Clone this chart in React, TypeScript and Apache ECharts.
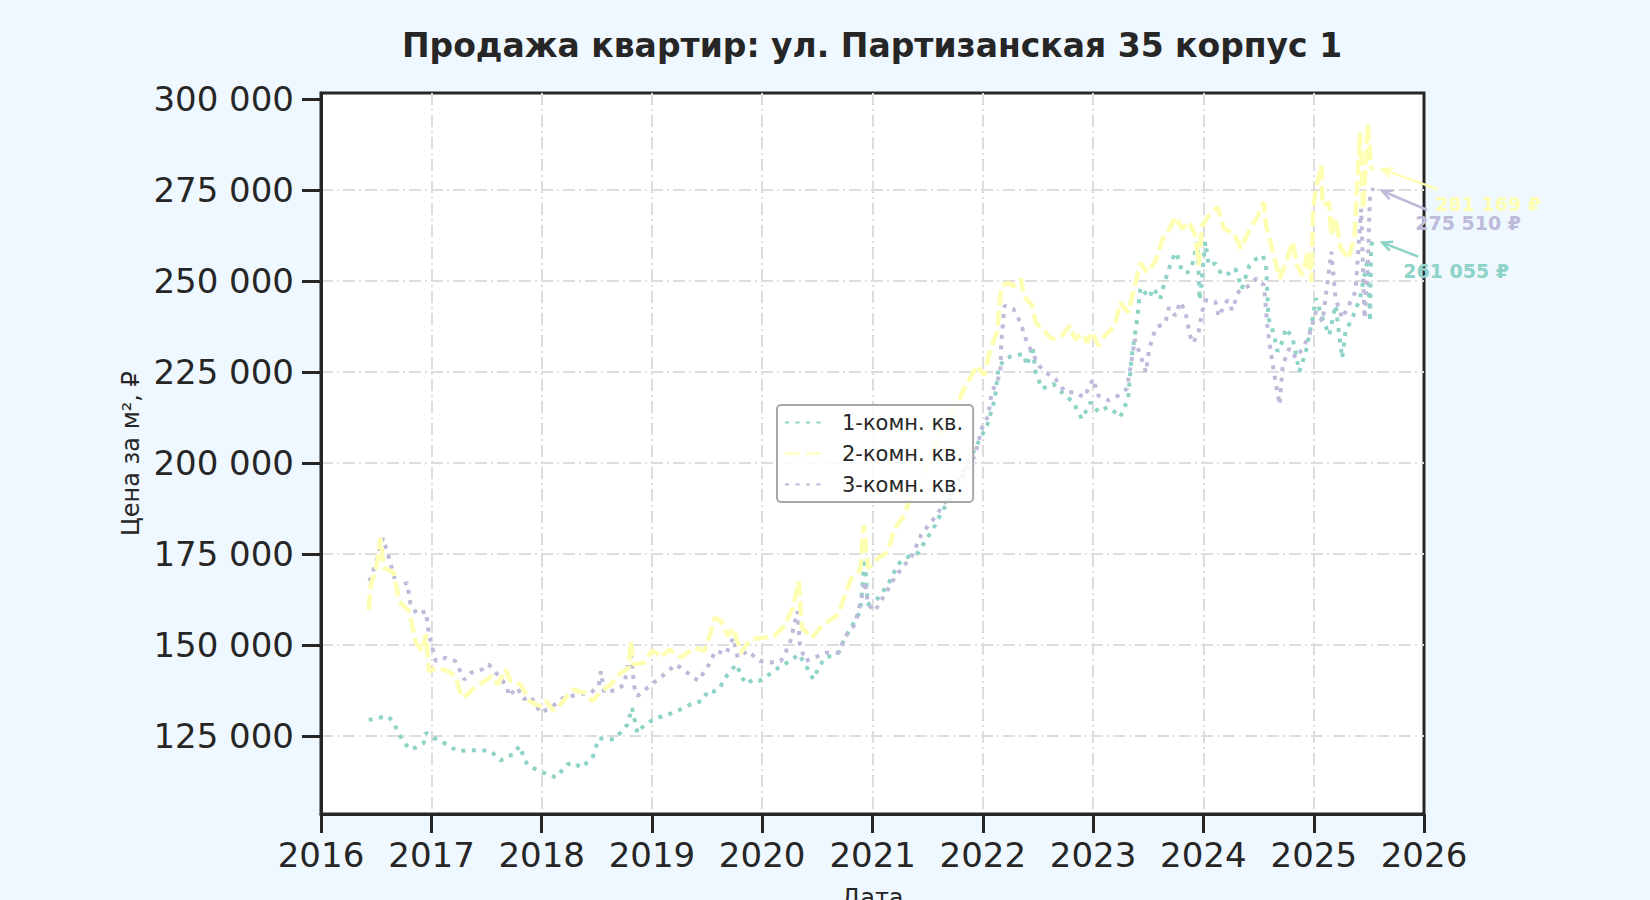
import React, { useEffect, useRef } from 'react';
import * as echarts from 'echarts';

const TITLE = 'Продажа квартир: ул. Партизанская 35 корпус 1';
const SERIES_NAMES = ['1-комн. кв.', '2-комн. кв.', '3-комн. кв.'];
const COLORS = ['#8dd3c7', '#ffffb3', '#bebada'];
const YEAR_TICKS = [2016, 2017, 2018, 2019, 2020, 2021, 2022, 2023, 2024, 2025, 2026];
const PRICE_TICKS = [125000, 150000, 175000, 200000, 225000, 250000, 275000, 300000];

// цена за м², ₽
const oneRoom: [string, number][] = [
  ['2016-06-07', 129400], ['2016-07-08', 130000], ['2016-08-08', 130500], ['2016-08-26', 129100],
  ['2016-09-16', 125500], ['2016-10-04', 123000], ['2016-10-23', 121300], ['2016-11-14', 122000],
  ['2016-12-06', 123100], ['2016-12-13', 125900], ['2017-01-08', 124500], ['2017-02-03', 123500],
  ['2017-02-28', 122300], ['2017-03-28', 120900], ['2017-05-08', 121100], ['2017-06-14', 121100],
  ['2017-07-16', 120900], ['2017-08-18', 118300], ['2017-09-13', 119500], ['2017-10-01', 120000],
  ['2017-10-19', 122300], ['2017-11-14', 117100], ['2017-12-10', 116000], ['2018-01-04', 115000],
  ['2018-01-26', 114500], ['2018-02-17', 113600], ['2018-03-26', 117200], ['2018-04-16', 117700],
  ['2018-05-12', 116300], ['2018-06-18', 119100], ['2018-07-09', 124400], ['2018-08-04', 124100],
  ['2018-08-29', 124100], ['2018-09-20', 126000], ['2018-10-12', 128200], ['2018-10-27', 132800],
  ['2018-11-14', 125800], ['2018-12-06', 128000], ['2019-01-01', 129300], ['2019-01-19', 130000],
  ['2019-02-10', 130600], ['2019-03-08', 131300], ['2019-03-29', 132000], ['2019-04-20', 133000],
  ['2019-05-12', 133800], ['2019-06-18', 134700], ['2019-07-06', 137500], ['2019-07-24', 137200],
  ['2019-08-11', 137900], ['2019-09-09', 142000], ['2019-10-08', 144700], ['2019-10-27', 141000],
  ['2019-11-10', 139300], ['2019-12-02', 140500], ['2019-12-24', 140200], ['2020-01-26', 142000],
  ['2020-03-03', 144300], ['2020-04-05', 145600], ['2020-05-01', 147500], ['2020-05-23', 144700],
  ['2020-06-18', 140600], ['2020-07-06', 143800], ['2020-07-28', 146600], ['2020-08-19', 147000],
  ['2020-09-10', 147900], ['2020-10-01', 152000], ['2020-10-19', 154500], ['2020-11-03', 156600],
  ['2020-11-21', 159300], ['2020-12-06', 173800], ['2020-12-16', 161100], ['2021-01-05', 162000],
  ['2021-01-19', 162900], ['2021-02-21', 166600], ['2021-03-25', 172000], ['2021-04-16', 173800],
  ['2021-05-08', 174500], ['2021-05-30', 175200], ['2021-06-28', 179000], ['2021-07-27', 182900],
  ['2021-08-18', 186600], ['2021-09-13', 190000], ['2021-10-08', 194500], ['2021-11-06', 199000],
  ['2021-12-06', 203900], ['2022-01-15', 210300], ['2022-02-10', 217600], ['2022-02-21', 225800],
  ['2022-03-14', 228600], ['2022-04-12', 229500], ['2022-05-16', 229900], ['2022-05-27', 226700],
  ['2022-06-14', 232200], ['2022-06-25', 224900], ['2022-07-16', 220400], ['2022-08-22', 221700],
  ['2022-10-01', 218500], ['2022-10-27', 216700], ['2022-11-25', 212100], ['2022-12-24', 216700],
  ['2023-01-19', 214000], ['2023-02-17', 215300], ['2023-03-14', 214000], ['2023-04-01', 212600],
  ['2023-04-27', 217600], ['2023-05-08', 228600], ['2023-05-27', 239500], ['2023-06-07', 248200],
  ['2023-07-06', 245400], ['2023-07-20', 248000], ['2023-08-11', 245000], ['2023-08-29', 250500],
  ['2023-09-20', 256000], ['2023-10-04', 257800], ['2023-10-23', 252500], ['2023-11-10', 252300],
  ['2023-11-25', 254300], ['2023-12-13', 260700], ['2023-12-20', 244700], ['2024-01-08', 260700],
  ['2024-01-19', 254300], ['2024-02-10', 254800], ['2024-03-03', 251600], ['2024-03-25', 252000],
  ['2024-04-16', 253400], ['2024-05-08', 247900], ['2024-06-02', 254300], ['2024-06-25', 256100],
  ['2024-07-16', 257000], ['2024-07-27', 254300], ['2024-08-04', 239700], ['2024-08-19', 236100],
  ['2024-09-03', 230600], ['2024-09-17', 233000], ['2024-10-01', 237000], ['2024-10-23', 234200],
  ['2024-11-14', 225100], ['2024-12-06', 230600], ['2024-12-28', 239700], ['2025-01-08', 245200],
  ['2025-01-30', 239700], ['2025-02-21', 235100], ['2025-03-14', 243300], ['2025-04-05', 228800],
  ['2025-04-16', 236100], ['2025-05-08', 239700], ['2025-06-03', 245200], ['2025-06-18', 251600],
  ['2025-06-29', 256100], ['2025-07-06', 238800], ['2025-07-10', 259800], ['2025-07-17', 261055],
];

const twoRoom: [string, number][] = [
  ['2016-06-07', 159700], ['2016-06-14', 166600], ['2016-07-02', 171000], ['2016-07-16', 179400],
  ['2016-07-27', 171200], ['2016-08-15', 170500], ['2016-08-29', 169800], ['2016-09-16', 162000],
  ['2016-10-04', 160500], ['2016-10-19', 159300], ['2016-10-31', 154700], ['2016-11-10', 150600],
  ['2016-12-02', 148300], ['2016-12-13', 152900], ['2016-12-24', 142800], ['2017-01-15', 143500],
  ['2017-02-10', 143300], ['2017-03-03', 142500], ['2017-03-21', 141500], ['2017-04-12', 135500],
  ['2017-05-01', 136500], ['2017-05-16', 137800], ['2017-06-07', 139000], ['2017-06-25', 140100],
  ['2017-07-20', 141500], ['2017-08-08', 139200], ['2017-09-03', 143300], ['2017-09-20', 140100],
  ['2017-10-08', 139500], ['2017-10-23', 139200], ['2017-11-06', 137000], ['2017-11-21', 134600],
  ['2017-12-10', 133800], ['2017-12-28', 133200], ['2018-01-15', 134600], ['2018-02-10', 131900],
  ['2018-03-03', 133500], ['2018-03-21', 135500], ['2018-04-16', 137800], ['2018-05-05', 137200],
  ['2018-05-23', 136900], ['2018-06-18', 134600], ['2018-07-16', 137300], ['2018-08-18', 139200],
  ['2018-09-20', 142400], ['2018-10-16', 143700], ['2018-10-23', 151100], ['2018-10-31', 144700],
  ['2018-11-18', 144900], ['2018-12-06', 145100], ['2019-01-01', 148400], ['2019-01-15', 147800],
  ['2019-01-30', 146600], ['2019-02-28', 148800], ['2019-03-21', 147500], ['2019-04-09', 146600],
  ['2019-05-01', 148000], ['2019-05-23', 149300], ['2019-06-25', 148400], ['2019-07-13', 153000],
  ['2019-07-27', 157500], ['2019-08-18', 156600], ['2019-09-09', 152500], ['2019-09-27', 154700],
  ['2019-10-23', 147900], ['2019-11-10', 150000], ['2019-11-25', 151600], ['2019-12-17', 151800],
  ['2020-01-08', 152000], ['2020-02-10', 152500], ['2020-03-14', 155200], ['2020-04-12', 160200],
  ['2020-05-01', 167500], ['2020-05-12', 154700], ['2020-06-14', 152000], ['2020-07-02', 153800],
  ['2020-07-20', 155600], ['2020-08-15', 157000], ['2020-09-10', 158400], ['2020-10-01', 163800],
  ['2020-10-23', 168400], ['2020-11-21', 170600], ['2020-12-02', 182900], ['2020-12-17', 171100],
  ['2021-01-19', 173800], ['2021-02-21', 175600], ['2021-03-14', 182000], ['2021-04-16', 185600],
  ['2021-04-27', 188400], ['2021-05-27', 193000], ['2021-07-02', 200000], ['2021-08-08', 207000],
  ['2021-09-13', 213000], ['2021-10-16', 217600], ['2021-11-03', 221000], ['2021-11-18', 223100],
  ['2021-12-13', 226700], ['2022-01-05', 224000], ['2022-01-26', 231300], ['2022-02-17', 235900],
  ['2022-03-03', 248600], ['2022-03-25', 249500], ['2022-04-12', 248600], ['2022-05-08', 250500],
  ['2022-05-16', 245900], ['2022-06-14', 243200], ['2022-06-25', 238600], ['2022-07-16', 236800],
  ['2022-08-19', 234000], ['2022-09-20', 235000], ['2022-10-16', 237700], ['2022-11-03', 234000],
  ['2022-11-25', 235500], ['2022-12-13', 233100], ['2022-12-28', 235900], ['2023-01-19', 232200],
  ['2023-02-10', 235000], ['2023-03-14', 237700], ['2023-04-01', 244100], ['2023-04-27', 241300],
  ['2023-05-19', 248600], ['2023-06-07', 255000], ['2023-06-29', 252300], ['2023-07-27', 255500],
  ['2023-08-19', 261400], ['2023-09-09', 264000], ['2023-10-01', 267500], ['2023-10-23', 264300],
  ['2023-11-14', 266200], ['2023-12-06', 262500], ['2023-12-17', 254300], ['2023-12-28', 265200],
  ['2024-01-15', 267500], ['2024-02-17', 270300], ['2024-03-10', 264300], ['2024-04-12', 263000],
  ['2024-05-05', 258900], ['2024-06-03', 264300], ['2024-06-25', 267100], ['2024-07-20', 271600],
  ['2024-07-27', 265200], ['2024-08-19', 258000], ['2024-09-10', 250700], ['2024-10-01', 255200],
  ['2024-10-23', 260700], ['2024-11-06', 254300], ['2024-11-25', 251600], ['2024-12-13', 258000],
  ['2024-12-24', 249700], ['2024-12-30', 269800], ['2025-01-08', 275300], ['2025-01-26', 281700],
  ['2025-01-30', 270700], ['2025-02-21', 271600], ['2025-02-28', 262500], ['2025-03-14', 267100],
  ['2025-04-01', 258900], ['2025-04-27', 256100], ['2025-05-16', 262500], ['2025-06-03', 290800],
  ['2025-06-14', 269800], ['2025-06-29', 293100], ['2025-07-10', 280800], ['2025-07-17', 281169],
];

const threeRoom: [string, number][] = [
  ['2016-06-10', 167500], ['2016-07-02', 173000], ['2016-07-24', 179400], ['2016-08-15', 173500],
  ['2016-09-09', 165700], ['2016-09-27', 166500], ['2016-10-12', 167100], ['2016-10-23', 161600],
  ['2016-11-14', 158400], ['2016-12-13', 159300], ['2016-12-24', 152900], ['2017-01-15', 145600],
  ['2017-02-17', 146500], ['2017-03-21', 145600], ['2017-04-20', 140500], ['2017-05-12', 142400],
  ['2017-06-18', 143300], ['2017-07-09', 144700], ['2017-07-31', 142500], ['2017-08-18', 141000],
  ['2017-09-09', 138300], ['2017-09-13', 136000], ['2017-10-12', 138300], ['2017-11-03', 135100],
  ['2017-11-25', 136000], ['2017-12-28', 131400], ['2018-01-30', 132800], ['2018-03-14', 135500],
  ['2018-05-01', 136400], ['2018-06-14', 136900], ['2018-07-09', 139000], ['2018-07-16', 142800],
  ['2018-07-27', 136900], ['2018-09-09', 137800], ['2018-10-01', 139200], ['2018-10-23', 148300],
  ['2018-11-03', 138700], ['2018-11-14', 136000], ['2018-12-06', 137500], ['2019-01-01', 139300],
  ['2019-02-06', 141600], ['2019-03-21', 144700], ['2019-04-20', 142900], ['2019-06-03', 140200],
  ['2019-07-06', 144300], ['2019-07-31', 148400], ['2019-09-03', 147500], ['2019-09-27', 152000],
  ['2019-10-12', 146600], ['2019-11-14', 148400], ['2019-12-24', 145600], ['2020-01-30', 145200],
  ['2020-03-03', 145600], ['2020-04-01', 150200], ['2020-04-27', 159300], ['2020-05-05', 150200],
  ['2020-05-23', 145600], ['2020-06-25', 146600], ['2020-07-28', 147900], ['2020-09-10', 147900],
  ['2020-10-04', 152500], ['2020-11-03', 155600], ['2020-11-25', 162900], ['2020-12-06', 167500],
  ['2020-12-17', 161100], ['2021-01-08', 159300], ['2021-02-10', 163800], ['2021-03-14', 168400],
  ['2021-04-16', 172000], ['2021-05-08', 173800], ['2021-06-10', 180200], ['2021-07-27', 185200],
  ['2021-09-13', 191000], ['2021-11-03', 197500], ['2021-12-06', 202100], ['2021-12-28', 209400],
  ['2022-01-19', 213000], ['2022-01-30', 219400], ['2022-02-17', 222200], ['2022-02-28', 224900],
  ['2022-03-03', 233100], ['2022-03-14', 243200], ['2022-04-12', 242300], ['2022-05-05', 238600],
  ['2022-05-27', 233100], ['2022-07-06', 226700], ['2022-07-28', 224900], ['2022-08-29', 223100],
  ['2022-10-01', 219400], ['2022-11-03', 219400], ['2022-12-02', 218000], ['2023-01-01', 223100],
  ['2023-01-19', 218500], ['2023-02-21', 217200], ['2023-03-25', 218500], ['2023-04-23', 220400],
  ['2023-05-08', 227700], ['2023-05-19', 234000], ['2023-06-07', 229500], ['2023-06-25', 224900],
  ['2023-07-06', 231300], ['2023-07-27', 237000], ['2023-08-29', 238600], ['2023-09-09', 242700],
  ['2023-10-01', 240400], ['2023-10-16', 244200], ['2023-11-03', 241500], ['2023-11-18', 235000],
  ['2023-11-29', 232900], ['2023-12-17', 236100], ['2023-12-28', 241500], ['2024-01-08', 244700],
  ['2024-02-10', 244300], ['2024-02-21', 240200], ['2024-03-21', 244700], ['2024-04-05', 242000],
  ['2024-04-27', 247000], ['2024-06-03', 248800], ['2024-06-25', 250700], ['2024-07-20', 248800],
  ['2024-07-31', 237900], ['2024-08-11', 230600], ['2024-08-29', 221500], ['2024-09-10', 216000],
  ['2024-09-20', 226900], ['2024-10-12', 231500], ['2024-11-03', 228800], ['2024-11-25', 231500],
  ['2024-12-17', 235100], ['2025-01-08', 241500], ['2025-01-30', 238800], ['2025-02-28', 258000],
  ['2025-03-14', 245200], ['2025-04-05', 239700], ['2025-04-27', 243300], ['2025-05-19', 247000],
  ['2025-06-07', 269800], ['2025-06-18', 239700], ['2025-06-29', 254300], ['2025-07-06', 273500],
  ['2025-07-17', 275510],
];

const SERIES_DATA = [oneRoom, twoRoom, threeRoom];
const LINE_DASH = [[4, 6.5], [15, 5.5], [4, 6.5]];
const LINE_WIDTH = [4, 4.5, 4];

// arrow tip, arrow tail and text anchor, relative to the last point
const ANNOT = [
  { tip: [9, 2], tail: [45, 16], text: [30, 30] },
  { tip: [9, 2], tail: [65, 22], text: [62, 37] },
  { tip: [9, 3], tail: [54, 22], text: [42, 35] },
];

const FONT = 'DejaVu Sans';
const INK = '#262626';

const fmt = (v: number) => String(Math.round(v)).replace(/\B(?=(\d{3})+(?!\d))/g, ' ');
const toTime = (d: string) => echarts.time.parse(d).getTime();

export default function App() {
  const ref = useRef<HTMLDivElement>(null);

  useEffect(() => {
    const chart = echarts.init(ref.current, null, { renderer: 'svg' });
    const yearTs = YEAR_TICKS.map((y) => new Date(y, 0, 1).getTime());
    const gridLine = { show: true, showMaxLine: false, lineStyle: { color: '#dddddd', width: 2, type: [12, 4, 2, 4] } };

    chart.setOption({
      animation: false,
      backgroundColor: '#f0f8ff',
      textStyle: { fontFamily: FONT },
      grid: {
        left: 321,
        right: 226,
        top: 93,
        bottom: 86,
        outerBoundsMode: 'none',
        containLabel: false,
        show: true,
        backgroundColor: '#ffffff',
        borderColor: INK,
        borderWidth: 3,
      },
      legend: {
        orient: 'vertical',
        left: 777,
        top: 405,
        data: SERIES_NAMES,
        itemWidth: 37,
        itemHeight: 10,
        itemGap: 10,
        padding: [7, 10, 7, 7],
        itemStyle: { opacity: 0 },
        backgroundColor: 'rgba(255,255,255,0.85)',
        borderColor: '#a8a8a8',
        borderWidth: 2,
        borderRadius: 4,
        textStyle: { fontFamily: FONT, fontSize: 21, color: INK, padding: [0, 0, 0, 15] },
      },
      xAxis: {
        type: 'value',
        min: yearTs[0],
        max: yearTs[yearTs.length - 1],
        name: 'Дата',
        nameLocation: 'middle',
        nameGap: 72,
        nameTextStyle: { fontFamily: FONT, fontSize: 24, color: INK },
        axisLine: { show: true, lineStyle: { color: INK, width: 3 } },
        axisTick: { show: true, length: 19, lineStyle: { color: INK, width: 3 }, customValues: yearTs },
        axisLabel: {
          customValues: yearTs,
          fontFamily: FONT,
          fontSize: 34,
          color: INK,
          margin: 24,
          formatter: (v: number) => String(new Date(v).getFullYear()),
        },
        splitLine: gridLine,
      },
      yAxis: {
        type: 'value',
        min: 103600,
        max: 301600,
        name: 'Цена за м², ₽',
        nameLocation: 'middle',
        nameGap: 178,
        nameRotate: 90,
        nameTextStyle: { fontFamily: FONT, fontSize: 24, color: INK },
        axisLine: { show: true, lineStyle: { color: INK, width: 3 } },
        axisTick: { show: true, length: 19, lineStyle: { color: INK, width: 3 }, customValues: PRICE_TICKS },
        axisLabel: {
          customValues: PRICE_TICKS,
          fontFamily: FONT,
          fontSize: 34,
          color: INK,
          margin: 27,
          formatter: (v: number) => fmt(v),
        },
        splitLine: gridLine,
      },
      series: SERIES_DATA.map((data, i) => ({
        name: SERIES_NAMES[i],
        type: 'line',
        data: data.map(([d, v]) => [toTime(d), v]),
        symbol: 'none',
        color: COLORS[i],
        lineStyle: { color: COLORS[i], width: LINE_WIDTH[i], type: LINE_DASH[i] },
        z: i === 1 ? 3 : 2,
      })),
    });

    const graphics: any[] = [];
    SERIES_DATA.forEach((data, i) => {
      const last = data[data.length - 1];
      const p = chart.convertToPixel({ gridIndex: 0 }, [toTime(last[0]), last[1]]) as number[];
      const a = ANNOT[i];
      const tip = [p[0] + a.tip[0], p[1] + a.tip[1]];
      const tail = [p[0] + a.tail[0], p[1] + a.tail[1]];
      const dx = tail[0] - tip[0];
      const dy = tail[1] - tip[1];
      const len = Math.sqrt(dx * dx + dy * dy);
      const ux = dx / len;
      const uy = dy / len;
      const head = 11;
      const spread = 0.45;
      const h1 = [tip[0] + head * (ux * Math.cos(spread) - uy * Math.sin(spread)), tip[1] + head * (uy * Math.cos(spread) + ux * Math.sin(spread))];
      const h2 = [tip[0] + head * (ux * Math.cos(-spread) - uy * Math.sin(-spread)), tip[1] + head * (uy * Math.cos(-spread) + ux * Math.sin(-spread))];
      graphics.push(
        { type: 'line', z: 10, shape: { x1: tail[0], y1: tail[1], x2: tip[0], y2: tip[1] }, style: { stroke: COLORS[i], lineWidth: 2.5 } },
        { type: 'polyline', z: 10, shape: { points: [h1, tip, h2] }, style: { stroke: COLORS[i], lineWidth: 2.5, fill: null } },
        {
          type: 'text',
          z: 10,
          x: p[0] + a.text[0],
          y: p[1] + a.text[1],
          style: {
            text: fmt(last[1]) + ' ₽',
            fill: COLORS[i],
            font: `bold 19px "${FONT}"`,
            textAlign: 'left',
            textVerticalAlign: 'middle',
          },
        }
      );
    });
    graphics.push({
      type: 'text',
      x: 872,
      y: 45,
      style: {
        text: TITLE,
        fill: INK,
        font: `bold 33px "${FONT}"`,
        textAlign: 'center',
        textVerticalAlign: 'middle',
      },
    });
    chart.setOption({ graphic: graphics });

    return () => chart.dispose();
  }, []);

  return (
    <div
      ref={ref}
      style={{ position: 'absolute', left: 0, top: 0, width: 1650, height: 900, background: '#f0f8ff' }}
    />
  );
}
